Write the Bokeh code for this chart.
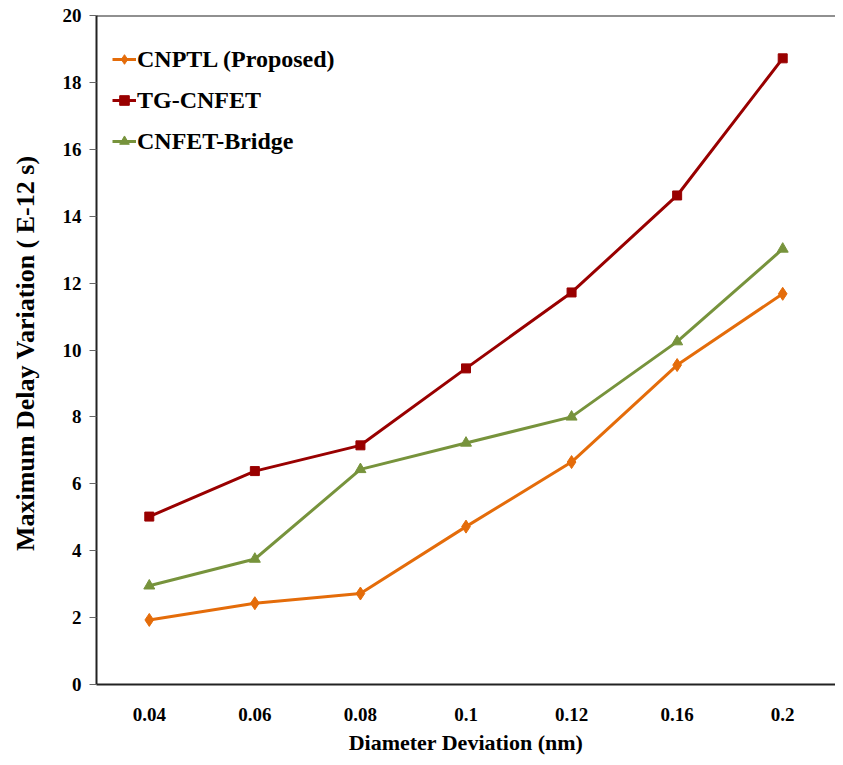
from bokeh.plotting import figure
from bokeh.models import Span, Legend, LegendItem, FactorRange, Range1d, FixedTicker
from bokeh.embed import file_html
from bokeh.resources import INLINE

deviation = ["0.04", "0.06", "0.08", "0.1", "0.12", "0.16", "0.2"]
cnptl = [1.93, 2.43, 2.72, 4.72, 6.65, 9.55, 11.68]
tg_cnfet = [5.02, 6.38, 7.15, 9.45, 11.72, 14.62, 18.72]
bridge = [2.95, 3.75, 6.43, 7.22, 8.00, 10.25, 13.02]
y_ticks = [0, 2, 4, 6, 8, 10, 12, 14, 16, 18, 20]

FONT = "Liberation Serif"

p = figure(width=835, height=757, x_range=FactorRange(*deviation, range_padding=0),
           y_range=Range1d(0, 20), output_backend="svg", toolbar_location=None,
           min_border_left=96, min_border_top=15, min_border_bottom=73, min_border_right=0)
p.outline_line_color = None
p.grid.visible = False
p.background_fill_color = "white"

series = [
    ("CNPTL (Proposed)", cnptl, "#E46C0A", "diamond", 13),
    ("TG-CNFET", tg_cnfet, "#990000", "square", 9),
    ("CNFET-Bridge", bridge, "#77933C", "triangle", 11),
]
items = []
for label, vals, color, marker, size in series:
    l = p.line(deviation, vals, line_color=color, line_width=3)
    s = p.scatter(deviation, vals, marker=marker, size=size, fill_color=color, line_color=color)
    items.append(LegendItem(label=label, renderers=[l, s]))

legend = Legend(items=items, location=(16, 528), padding=0, margin=0,
                background_fill_alpha=0, border_line_color=None,
                label_text_font=FONT, label_text_font_style="bold",
                label_text_font_size="24px", label_text_color="black",
                glyph_width=24, glyph_height=30, label_height=30,
                label_standoff=1, spacing=11)
p.add_layout(legend)

p.add_layout(Span(location=20, dimension="width", line_color="#222222", line_width=2))

for ax in (p.xaxis, p.yaxis):
    ax.axis_line_width = 2
    ax.axis_line_color = "#222222"
    ax.major_label_text_font = FONT
    ax.major_label_text_font_style = "bold"
    ax.major_label_text_font_size = "19px"
    ax.major_label_text_color = "black"
    ax.axis_label_text_font = FONT
    ax.axis_label_text_font_style = "bold"
    ax.axis_label_text_color = "black"
    ax.minor_tick_line_color = None

p.xaxis.major_tick_line_color = None
p.xaxis.major_tick_out = 0
p.xaxis.major_tick_in = 0
p.xaxis.major_label_standoff = 23
p.xaxis.axis_label = "Diameter Deviation (nm)"
p.xaxis.axis_label_text_font_size = "22px"
p.xaxis.axis_label_standoff = 6

p.yaxis.ticker = FixedTicker(ticks=y_ticks)
p.yaxis.major_tick_out = 7
p.yaxis.major_tick_in = 0
p.yaxis.major_tick_line_color = "#666666"
p.yaxis.major_label_standoff = 8
p.yaxis.axis_label = "Maximum Delay Variation  ( E-12 s)"
p.yaxis.axis_label_text_font_size = "26px"
p.yaxis.axis_label_standoff = 20

open("out.html", "w").write(file_html(p, INLINE))
